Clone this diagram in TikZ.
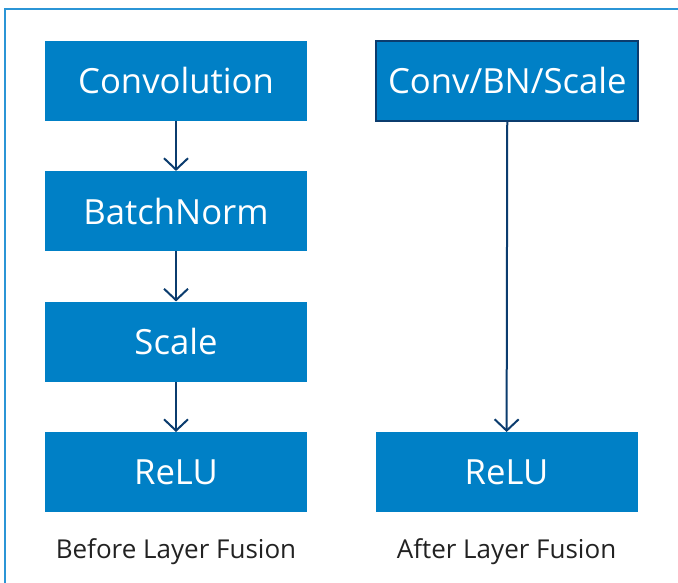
\documentclass[tikz,border=0pt]{standalone}
\usepackage{fontspec}
\setmainfont{Open Sans}
\usepackage{xcolor}
\usetikzlibrary{arrows.meta,positioning}

\definecolor{layerblue}{HTML}{0080C6}
\definecolor{navy}{HTML}{0B3C6E}
\definecolor{framebl}{HTML}{2B95D6}
\definecolor{captxt}{HTML}{222222}

\begin{document}
\begin{tikzpicture}[
    node distance=37.5pt and 51pt,
    layer/.style={rectangle, fill=layerblue, text=white, minimum width=196.5pt, minimum height=60pt, inner sep=0pt, font=\fontsize{26}{28}\selectfont},
    fused/.style={layer, draw=navy, line width=1.6pt},
    flow/.style={draw=navy, line width=1.5pt, -{Straight Barb[length=8.5pt,width=18pt,line width=1.5pt]}},
    caption/.style={text=captxt, font=\fontsize{19.5}{22}\selectfont}
]
    \useasboundingbox (0,0) rectangle (508.5pt,-436.5pt);
    \draw[framebl, line width=1.6pt] (3.75pt,-445pt) |- (515pt,-6.75pt);

    % before fusion
    \node [layer] (conv) at (132pt,-60.5pt) {Convolution};
    \node [layer, below=of conv] (bn) {BatchNorm};
    \node [layer, below=of bn] (scale) {Scale};
    \node [layer, below=of scale] (relua) {ReLU};
    \node [caption, below=16pt of relua] (before) {Before Layer Fusion};

    % after fusion
    \node [fused, right=of conv] (cbs) {Conv/BN/Scale};
    \node [layer, right=of relua] (relub) {ReLU};
    \node [caption, below=16pt of relub] (after) {After Layer Fusion};

    \draw [flow] (conv) -- (bn);
    \draw [flow] (bn) -- (scale);
    \draw [flow] (scale) -- (relua);
    \draw [flow] (cbs) -- (relub);
\end{tikzpicture}
\end{document}
